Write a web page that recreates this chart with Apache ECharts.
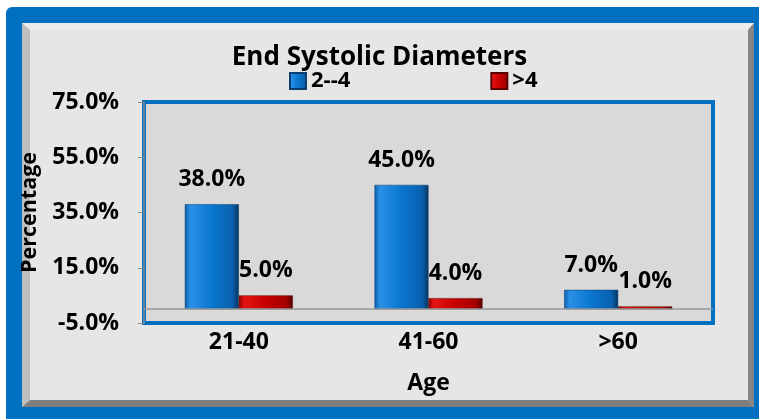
<!DOCTYPE html>
<html>
<head>
<meta charset="utf-8">
<script src="https://cdn.jsdelivr.net/npm/echarts@6/dist/echarts.min.js"></script>
<style>
html,body{margin:0;padding:0;background:#fff;}
#c{width:759px;height:419px;}
</style>
</head>
<body>
<div id="c"></div>
<script>
const categories = ['21-40', '41-60', '>60'];
const seriesNames = ['2--4', '>4'];
const values2to4 = [38, 45, 7];
const valuesOver4 = [5, 4, 1];
const yTicks = [-5, 15, 35, 55, 75];

const FONT = 'Open Sans';
const blueFill = {type:'linear',x:0,y:0,x2:1,y2:0,colorStops:[
  {offset:0,color:'#0b5da8'},{offset:0.1,color:'#2a90e6'},{offset:0.5,color:'#0a76cf'},
  {offset:0.88,color:'#0960ae'},{offset:1,color:'#05345f'}]};
const redFill = {type:'linear',x:0,y:0,x2:1,y2:0,colorStops:[
  {offset:0,color:'#900000'},{offset:0.1,color:'#e41414'},{offset:0.5,color:'#c80000'},
  {offset:0.88,color:'#a40000'},{offset:1,color:'#520000'}]};

const chart = echarts.init(document.getElementById('c'));
const txt = (size)=>({fontFamily:FONT, fontWeight:'bold', fontSize:size, color:'#000'});
const lbl = Object.assign({show:true, position:'top', distance:13,
  formatter:p=>p.value.toFixed(1)+'%'}, txt(23));
chart.setOption({
  animation:false,
  backgroundColor:'#ffffff',
  graphic:[
    {type:'rect', z:-10, shape:{x:6,y:7,width:760,height:420,r:6}, style:{fill:'#0070c0'}},
    {type:'rect', z:-9, shape:{x:22,y:23,width:732,height:384}, style:{fill:'#e6e6e6'}},
    {type:'polygon', z:-8, shape:{points:[[22,23],[754,23],[748,30],[30,30]]}, style:{fill:'#ebebeb'}},
    {type:'polygon', z:-8, shape:{points:[[22,23],[30,30],[30,400],[22,407]]}, style:{fill:'#bfbfbf'}},
    {type:'polygon', z:-8, shape:{points:[[22,407],[30,400],[748,400],[754,407]]}, style:{fill:'#7f7f7f'}},
    {type:'polygon', z:-8, shape:{points:[[748,30],[754,23],[754,407],[748,400]]}, style:{fill:'#858585'}}
  ],
  title:{text:'End Systolic Diameters', left:'center', top:40, textStyle:txt(26)},
  legend:{data:seriesNames, left:284, top:65, itemWidth:16, itemHeight:16, itemGap:140, icon:'rect',
    textStyle:txt(22)},
  grid:{left:144, top:102, width:569, height:221, show:true, backgroundColor:'#d9d9d9',
    borderColor:'#0070c0', borderWidth:4},
  xAxis:{type:'category', data:categories, name:'Age', nameLocation:'middle', nameGap:49,
    nameTextStyle:txt(23),
    axisLine:{show:false}, axisTick:{show:false},
    axisLabel:Object.assign({margin:8}, txt(23))},
  yAxis:{type:'value', min:yTicks[0], max:yTicks[yTicks.length-1], interval:yTicks[1]-yTicks[0],
    name:'Percentage', nameLocation:'middle', nameGap:93, nameRotate:90,
    nameTextStyle:txt(21.5),
    axisLine:{show:true, lineStyle:{color:'#8c8c8c', width:1.5}},
    axisTick:{show:true, length:6, lineStyle:{color:'#8c8c8c'}},
    splitLine:{show:false},
    axisLabel:Object.assign({margin:25, formatter:v=>v.toFixed(1)+'%'}, txt(23))},
  series:[
    {name:seriesNames[0], type:'bar', data:values2to4, barWidth:54, barGap:'0%',
     itemStyle:{color:blueFill, borderColor:'#0a3d6e', borderWidth:0.5}, label:lbl,
     markLine:{silent:true, symbol:'none', label:{show:false}, data:[{yAxis:0}],
       lineStyle:{color:'#999', width:1.5, type:'solid'}}},
    {name:seriesNames[1], type:'bar', data:valuesOver4, barWidth:54, barGap:'0%',
     itemStyle:{color:redFill, borderColor:'#5a0000', borderWidth:0.5}, label:lbl}
  ]
});
</script>
</body>
</html>
